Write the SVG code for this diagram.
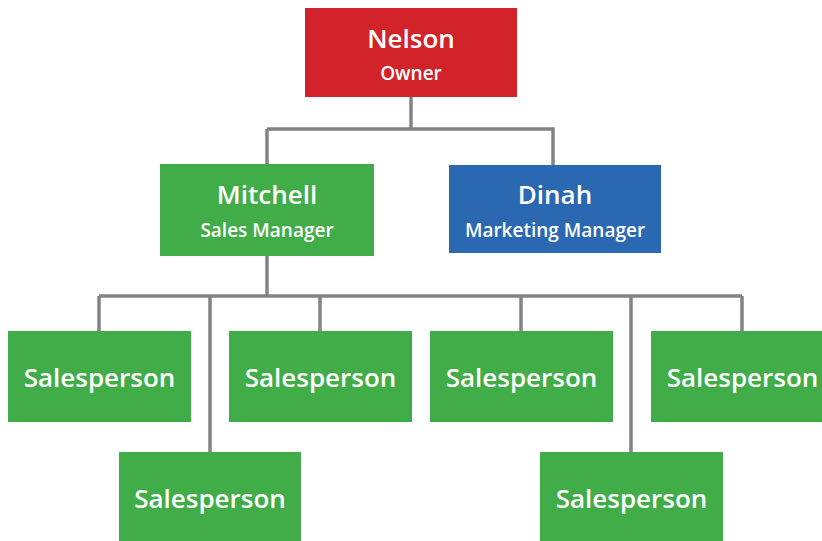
<svg xmlns="http://www.w3.org/2000/svg" width="822" height="541" viewBox="0 0 822 541">
<style>
.red{fill:#D2232A}.green{fill:#41AD49}.blue{fill:#2A68B1}
.conn{fill:none;stroke:#838387;stroke-width:3.5}
text{font-family:"Open Sans","Liberation Sans",sans-serif;font-weight:600;fill:#fff;text-anchor:middle}
.t{font-size:26px}.s{font-size:19px}
</style>
<rect width="822" height="541" fill="#fff"/>
<g id="connectors" class="conn">
<path d="M411 97V129M267 129H553V165M267 129V164"/>
<path d="M267 256V296M99 296H742M99 296V331M320 296V331M521 296V331M742 296V331M210 296V452M631 296V452"/>
</g>
<g id="nelson"><rect class="red" x="305" y="8" width="212" height="89"/><text class="t" x="411" y="48">Nelson</text><text class="s" x="411" y="80">Owner</text></g>
<g id="mitchell"><rect class="green" x="160" y="164" width="214" height="92"/><text class="t" x="267" y="204">Mitchell</text><text class="s" x="267" y="237">Sales Manager</text></g>
<g id="dinah"><rect class="blue" x="449" y="165" width="212" height="88"/><text class="t" x="555" y="204">Dinah</text><text class="s" x="555" y="237">Marketing Manager</text></g>
<g id="sp1"><rect class="green" x="8" y="331" width="183" height="91"/><text class="t" x="99.5" y="387">Salesperson</text></g>
<g id="sp2"><rect class="green" x="229" y="331" width="183" height="91"/><text class="t" x="320.5" y="387">Salesperson</text></g>
<g id="sp3"><rect class="green" x="430" y="331" width="183" height="91"/><text class="t" x="521.5" y="387">Salesperson</text></g>
<g id="sp4"><rect class="green" x="651" y="331" width="183" height="91"/><text class="t" x="742.5" y="387">Salesperson</text></g>
<g id="sp5"><rect class="green" x="119" y="452" width="182" height="92"/><text class="t" x="210" y="508">Salesperson</text></g>
<g id="sp6"><rect class="green" x="540" y="452" width="183" height="92"/><text class="t" x="631.5" y="508">Salesperson</text></g>
</svg>
